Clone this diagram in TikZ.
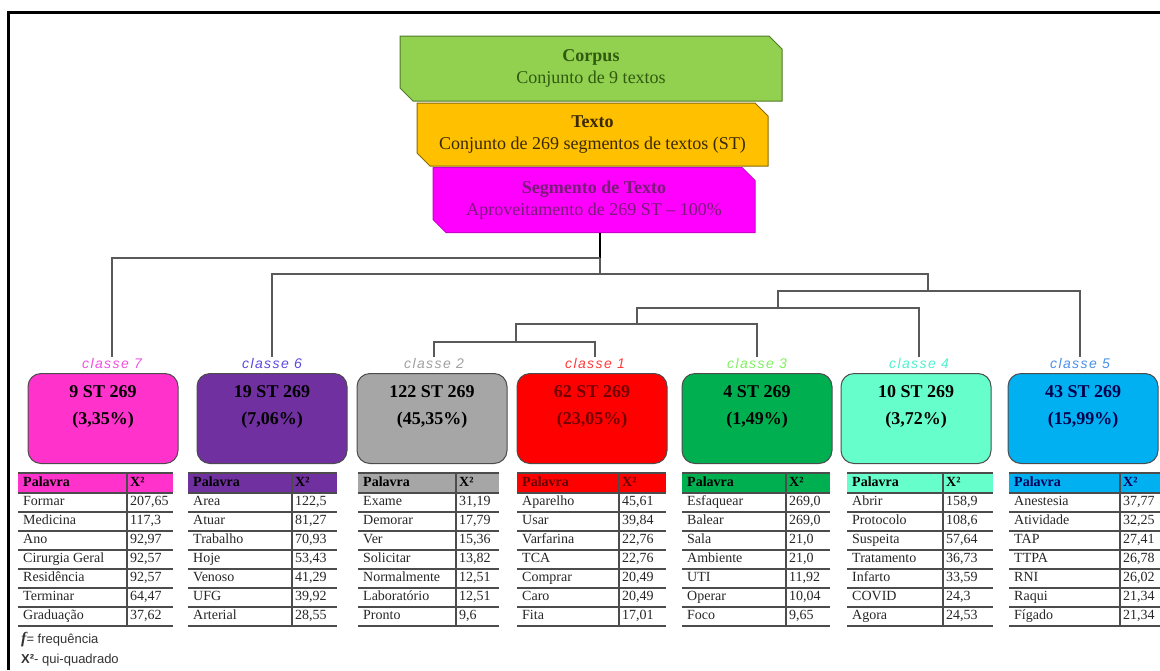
\documentclass[tikz,border=0pt]{standalone}
\usepackage{fontspec}
\setmainfont{Liberation Serif}
\setsansfont{Liberation Sans}
\newfontfamily\tagfont[LetterSpace=10]{Liberation Sans}
\usetikzlibrary{shapes.misc}

\definecolor{corpusfill}{HTML}{92D050}
\definecolor{corpusedge}{HTML}{4F7A28}
\definecolor{corpustext}{HTML}{2F5A10}
\definecolor{textofill}{HTML}{FFC000}
\definecolor{textoedge}{HTML}{8A6A00}
\definecolor{textotext}{HTML}{3A2800}
\definecolor{segfill}{HTML}{FF00FF}
\definecolor{segtext}{HTML}{7A1A7A}
\definecolor{cl7}{HTML}{FF33CC}
\definecolor{cl6}{HTML}{7030A0}
\definecolor{cl2}{HTML}{A6A6A6}
\definecolor{cl1}{HTML}{FF0000}
\definecolor{cl3}{HTML}{00B050}
\definecolor{cl4}{HTML}{66FFCC}
\definecolor{cl5}{HTML}{00B0F0}
\definecolor{lb7}{HTML}{F050E0}
\definecolor{lb6}{HTML}{5A4AE0}
\definecolor{lb2}{HTML}{A0A0A0}
\definecolor{lb1}{HTML}{FF3A3A}
\definecolor{lb3}{HTML}{80F060}
\definecolor{lb4}{HTML}{50F0D0}
\definecolor{lb5}{HTML}{4A90E8}

\begin{document}
\begin{tikzpicture}[x=1pt,y=-1pt,
  topbox/.style={chamfered rectangle,chamfered rectangle corners={north east,south west},
    chamfered rectangle xsep=6pt,chamfered rectangle ysep=7pt,inner sep=0pt,line width=1pt,
    align=center,font=\fontsize{18}{22}\selectfont},
  clsbox/.style={draw=black!70,line width=1pt,rounded corners=13pt,anchor=north,
    minimum width=150pt,minimum height=90pt,align=center,font=\bfseries\fontsize{18}{27}\selectfont},
  clslabel/.style={inner sep=1pt,font=\tagfont\itshape\fontsize{14}{14}\selectfont},
  tree/.style={draw=black!65,line width=1.2pt},
  rule/.style={draw=black!70,line width=1.4pt},
  cell/.style={anchor=west,inner sep=0pt,text height=9.5pt,text depth=3pt,text=black!85,
    font=\fontsize{14}{14}\selectfont},
  head/.style={cell,text=black,font=\bfseries\fontsize{14}{14}\selectfont}]
  \useasboundingbox (0,0) rectangle (1160,670);
  \draw[line width=3pt] (8,670) -- (8,12) -- (1160,12);

  % --- corpus / texto / segmento ---
  \node[topbox,fill=corpusfill,draw=corpusedge,text=corpustext,minimum width=382pt,minimum height=65pt]
    (corpus) at (591,68.5) {\textbf{Corpus}\\Conjunto de 9 textos};
  \node[topbox,fill=textofill,draw=textoedge,text=textotext,minimum width=351pt,minimum height=63pt]
    (texto) at (592.5,134.5) {\textbf{Texto}\\Conjunto de 269 segmentos de textos (ST)};
  \node[topbox,fill=segfill,draw=segfill!80!black,text=segtext,minimum width=322pt,minimum height=65pt]
    (seg) at (594,200) {\textbf{Segmento de Texto}\\Aproveitamento de 269 ST -- 100\%};

  % --- classes ---
  \node[clslabel,text=lb7] (lab7) at (112,363) {classe 7};
  \node[clslabel,text=lb6] (lab6) at (272,363) {classe 6};
  \node[clslabel,text=lb2] (lab2) at (434,363) {classe 2};
  \node[clslabel,text=lb1] (lab1) at (595,363) {classe 1};
  \node[clslabel,text=lb3] (lab3) at (757,363) {classe 3};
  \node[clslabel,text=lb4] (lab4) at (919,363) {classe 4};
  \node[clslabel,text=lb5] (lab5) at (1080,363) {classe 5};

  \node[clsbox,fill=cl7] (box7) at (103,373) {9 ST 269\\(3,35\%)\\[-9pt]\strut};
  \node[clsbox,fill=cl6] (box6) at (272,373) {19 ST 269\\(7,06\%)\\[-9pt]\strut};
  \node[clsbox,fill=cl2] (box2) at (432,373) {122 ST 269\\(45,35\%)\\[-9pt]\strut};
  \node[clsbox,fill=cl1,text=red!45!black] (box1) at (592,373) {62 ST 269\\(23,05\%)\\[-9pt]\strut};
  \node[clsbox,fill=cl3] (box3) at (757,373) {4 ST 269\\(1,49\%)\\[-9pt]\strut};
  \node[clsbox,fill=cl4] (box4) at (916,373) {10 ST 269\\(3,72\%)\\[-9pt]\strut};
  \node[clsbox,fill=cl5,text=blue!30!black] (box5) at (1083,373) {43 ST 269\\(15,99\%)\\[-9pt]\strut};

  % --- dendrograma ---
  \coordinate (j1) at (600,258);
  \coordinate (j2) at (600,274);
  \coordinate (j3) at (928,291);
  \coordinate (j4) at (778,308);
  \coordinate (j5) at (637,324);
  \coordinate (j6) at (516,342);
  \draw[line width=2pt] (j1 |- seg.south) -- (j1);
  \draw[tree] (j1) -| (lab7.north);
  \draw[tree] (j1) -- (j2);
  \draw[tree] (lab6.north) |- (j2) -| (j3);
  \draw[tree] (j4) |- (j3) -| (lab5.north);
  \draw[tree] (j5) |- (j4) -| (lab4.north);
  \draw[tree] (j6) |- (j5) -| (lab3.north);
  \draw[tree] (lab2.north) |- (j6) -| (lab1.north);

  % --- tabelas ---
  % classe 7
  \fill[cl7] (18,473) rectangle (173,493);
  \node[head] (h7w) at (23,483) {Palavra}; \node[head] (h7v) at (130,483) {X²};
  \draw[rule] (18,473) -- (173,473) (18,493) -- (173,493) (127,473) -- (127,626);
  \foreach \w/\v [count=\i] in {Formar/207{,}65,Medicina/117{,}3,Ano/92{,}97,Cirurgia Geral/92{,}57,
      Residência/92{,}57,Terminar/64{,}47,Graduação/37{,}62}{
    \node[cell] (w7\i) at (23,483.5+19*\i) {\w};
    \node[cell] (v7\i) at (130,483.5+19*\i) {\v};
    \draw[rule] (18,493+19*\i) -- (173,493+19*\i);
  }
  % classe 6
  \fill[cl6] (188,473) rectangle (337,493);
  \node[head] (h6w) at (193,483) {Palavra}; \node[head] (h6v) at (295,483) {X²};
  \draw[rule] (188,473) -- (337,473) (188,493) -- (337,493) (292,473) -- (292,626);
  \foreach \w/\v [count=\i] in {Area/122{,}5,Atuar/81{,}27,Trabalho/70{,}93,Hoje/53{,}43,
      Venoso/41{,}29,UFG/39{,}92,Arterial/28{,}55}{
    \node[cell] (w6\i) at (193,483.5+19*\i) {\w};
    \node[cell] (v6\i) at (295,483.5+19*\i) {\v};
    \draw[rule] (188,493+19*\i) -- (337,493+19*\i);
  }
  % classe 2
  \fill[cl2] (358,473) rectangle (499,493);
  \node[head] (h2w) at (363,483) {Palavra}; \node[head] (h2v) at (459,483) {X²};
  \draw[rule] (358,473) -- (499,473) (358,493) -- (499,493) (456,473) -- (456,626);
  \foreach \w/\v [count=\i] in {Exame/31{,}19,Demorar/17{,}79,Ver/15{,}36,Solicitar/13{,}82,
      Normalmente/12{,}51,Laboratório/12{,}51,Pronto/9{,}6}{
    \node[cell] (w2\i) at (363,483.5+19*\i) {\w};
    \node[cell] (v2\i) at (459,483.5+19*\i) {\v};
    \draw[rule] (358,493+19*\i) -- (499,493+19*\i);
  }
  % classe 1
  \fill[cl1] (517,473) rectangle (666,493);
  \node[head,text=red!40!black] (h1w) at (522,483) {Palavra}; \node[head,text=red!40!black] (h1v) at (622,483) {X²};
  \draw[rule] (517,473) -- (666,473) (517,493) -- (666,493) (619,473) -- (619,626);
  \foreach \w/\v [count=\i] in {Aparelho/45{,}61,Usar/39{,}84,Varfarina/22{,}76,TCA/22{,}76,
      Comprar/20{,}49,Caro/20{,}49,Fita/17{,}01}{
    \node[cell] (w1\i) at (522,483.5+19*\i) {\w};
    \node[cell] (v1\i) at (622,483.5+19*\i) {\v};
    \draw[rule] (517,493+19*\i) -- (666,493+19*\i);
  }
  % classe 3
  \fill[cl3] (682,473) rectangle (830,493);
  \node[head] (h3w) at (687,483) {Palavra}; \node[head] (h3v) at (789,483) {X²};
  \draw[rule] (682,473) -- (830,473) (682,493) -- (830,493) (786,473) -- (786,626);
  \foreach \w/\v [count=\i] in {Esfaquear/269{,}0,Balear/269{,}0,Sala/21{,}0,Ambiente/21{,}0,
      UTI/11{,}92,Operar/10{,}04,Foco/9{,}65}{
    \node[cell] (w3\i) at (687,483.5+19*\i) {\w};
    \node[cell] (v3\i) at (789,483.5+19*\i) {\v};
    \draw[rule] (682,493+19*\i) -- (830,493+19*\i);
  }
  % classe 4
  \fill[cl4] (847,473) rectangle (993,493);
  \node[head] (h4w) at (852,483) {Palavra}; \node[head] (h4v) at (946,483) {X²};
  \draw[rule] (847,473) -- (993,473) (847,493) -- (993,493) (943,473) -- (943,626);
  \foreach \w/\v [count=\i] in {Abrir/158{,}9,Protocolo/108{,}6,Suspeita/57{,}64,Tratamento/36{,}73,
      Infarto/33{,}59,COVID/24{,}3,Agora/24{,}53}{
    \node[cell] (w4\i) at (852,483.5+19*\i) {\w};
    \node[cell] (v4\i) at (946,483.5+19*\i) {\v};
    \draw[rule] (847,493+19*\i) -- (993,493+19*\i);
  }
  % classe 5
  \fill[cl5] (1009,473) rectangle (1165,493);
  \node[head,text=blue!35!black] (h5w) at (1014,483) {Palavra}; \node[head,text=blue!35!black] (h5v) at (1123,483) {X²};
  \draw[rule] (1009,473) -- (1165,473) (1009,493) -- (1165,493) (1120,473) -- (1120,626);
  \foreach \w/\v [count=\i] in {Anestesia/37{,}77,Atividade/32{,}25,TAP/27{,}41,TTPA/26{,}78,
      RNI/26{,}02,Raqui/21{,}34,Fígado/21{,}34}{
    \node[cell] (w5\i) at (1014,483.5+19*\i) {\w};
    \node[cell] (v5\i) at (1123,483.5+19*\i) {\v};
    \draw[rule] (1009,493+19*\i) -- (1165,493+19*\i);
  }

  % --- legenda ---
  \node[anchor=west,inner sep=0pt,text=black!80,font=\sffamily\fontsize{13}{13}\selectfont]
    (leg1) at (21,640) {{\rmfamily\bfseries\itshape\fontsize{16}{16}\selectfont f}= frequência};
  \node[anchor=west,inner sep=0pt,text=black!80,font=\sffamily\fontsize{13}{13}\selectfont]
    (leg2) at (21,660) {\textbf{X²}- qui-quadrado};
\end{tikzpicture}
\end{document}
